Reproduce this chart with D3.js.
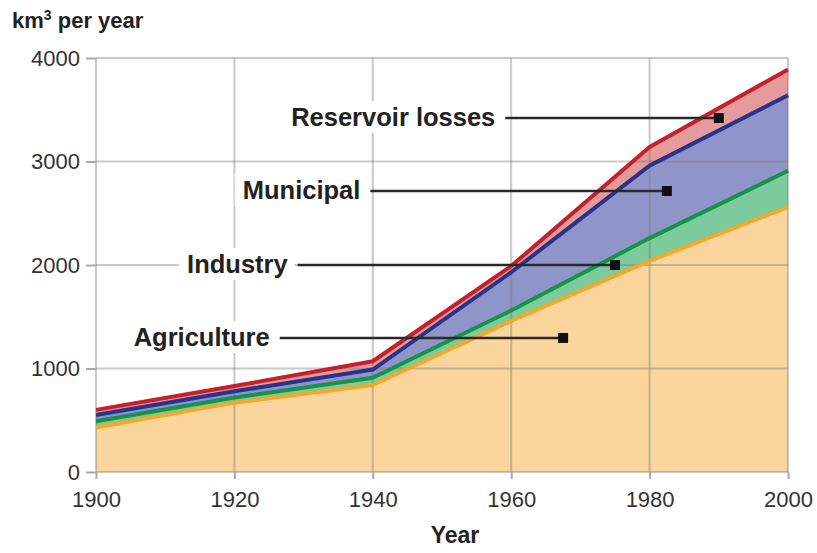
<!DOCTYPE html>
<html lang="en">
<head>
    <meta charset="UTF-8">
    <title>Water withdrawal by sector</title>
    <script src="https://d3js.org/d3.v7.min.js"></script>
    <style>
        body {
            margin: 0;
            background: #fff;
            font-family: "Liberation Sans", Arial, sans-serif;
        }
        .tick text {
            font-size: 22px;
            fill: #333;
        }
        .label {
            font-size: 25.5px;
            font-weight: bold;
            fill: #222;
        }
    </style>
</head>
<body>
    <div id="chart"></div>

    <script>
        // Data (km3 per year)
        const years = [1900, 1920, 1940, 1960, 1980, 2000];
        const agriculture = [430, 670, 840, 1460, 2040, 2560];
        const industry = [60, 50, 70, 100, 220, 350];
        const municipal = [60, 60, 80, 370, 700, 730];
        const reservoir = [50, 50, 80, 60, 180, 250];

        const seriesNames = ["Agriculture", "Industry", "Municipal", "Reservoir losses"];
        const xTicks = [1900, 1920, 1940, 1960, 1980, 2000];
        const yTicks = [0, 1000, 2000, 3000, 4000];

        // annotations: label end year, marker year, marker value
        const labelEndYears = [1925.1, 1927.7, 1938.2, 1957.7];
        const markerYears = [1967.5, 1975, 1982.5, 1990];
        const markerValues = [1295, 2000, 2715, 3420];

        const fills = ["#fad69c", "#7ccb9c", "#9095c9", "#e59a9c"];
        const strokes = ["#f2a82c", "#159447", "#27338d", "#c5202b"];

        const width = 817, height = 553;
        const margin = {top: 58, right: 29, bottom: 81, left: 96};

        const svg = d3.select("#chart").append("svg")
            .attr("width", width)
            .attr("height", height);

        const x = d3.scaleLinear().domain([1900, 2000]).range([margin.left, width - margin.right]);
        const y = d3.scaleLinear().domain([0, 4000]).range([height - margin.bottom, margin.top]);

        const table = years.map((yr, i) => ({
            year: yr,
            "Agriculture": agriculture[i],
            "Industry": industry[i],
            "Municipal": municipal[i],
            "Reservoir losses": reservoir[i]
        }));
        const stacked = d3.stack().keys(seriesNames)(table);

        const area = d3.area()
            .x(d => x(d.data.year))
            .y0(d => y(d[0]))
            .y1(d => y(d[1]));
        const topLine = d3.line()
            .x(d => x(d.data.year))
            .y(d => y(d[1]));

        // fills
        svg.append("g").selectAll("path")
            .data(stacked)
            .join("path")
            .attr("d", area)
            .attr("fill", (d, i) => fills[i]);

        // grid
        const grid = svg.append("g")
            .attr("stroke", "#777")
            .attr("stroke-opacity", 0.4)
            .attr("stroke-width", 2);
        grid.selectAll(".gx")
            .data(xTicks)
            .join("line")
            .attr("x1", d => x(d)).attr("x2", d => x(d))
            .attr("y1", y(0)).attr("y2", y(4000));
        grid.selectAll(".gy")
            .data(yTicks)
            .join("line")
            .attr("x1", x(1900)).attr("x2", x(2000))
            .attr("y1", d => y(d)).attr("y2", d => y(d));

        // axes
        const yAxis = svg.append("g")
            .attr("transform", `translate(${x(1900)},0)`)
            .call(d3.axisLeft(y).tickValues(yTicks).tickFormat(d3.format("d")).tickSize(10).tickPadding(6));
        const xAxis = svg.append("g")
            .attr("transform", `translate(0,${y(0)})`)
            .call(d3.axisBottom(x).tickValues(xTicks).tickFormat(d3.format("d")).tickSize(7).tickPadding(12));
        [xAxis, yAxis].forEach(a => {
            a.select(".domain").remove();
            a.selectAll(".tick line").attr("stroke", "#aaa").attr("stroke-width", 2);
        });

        // boundary lines
        svg.append("g").selectAll("path")
            .data(stacked)
            .join("path")
            .attr("d", topLine)
            .attr("fill", "none")
            .attr("stroke", (d, i) => strokes[i])
            .attr("stroke-width", 4)
            .attr("stroke-linejoin", "round");

        // annotations
        const ann = svg.append("g");
        seriesNames.forEach((name, i) => {
            const mx = x(markerYears[i]), my = y(markerValues[i]);
            const tx = x(labelEndYears[i]);
            const t = ann.append("text")
                .attr("class", "label")
                .attr("x", tx)
                .attr("y", my + 8)
                .attr("text-anchor", "end")
                .text(name);
            const bb = t.node().getBBox();
            ann.insert("rect", "text")
                .attr("x", bb.x - 8).attr("y", bb.y - 2)
                .attr("width", bb.width + 14).attr("height", bb.height + 4)
                .attr("fill", "#fff");
            ann.append("line")
                .attr("x1", tx + 10).attr("x2", mx)
                .attr("y1", my).attr("y2", my)
                .attr("stroke", "#2a2a2a")
                .attr("stroke-width", 2.5);
            ann.append("rect")
                .attr("x", mx - 5).attr("y", my - 5)
                .attr("width", 10).attr("height", 10)
                .attr("fill", "#111");
        });

        // titles
        const yt = svg.append("text")
            .attr("x", 12).attr("y", 28)
            .attr("font-size", 22).attr("font-weight", "bold").attr("fill", "#222");
        yt.append("tspan").text("km");
        yt.append("tspan").attr("font-size", 14).attr("dy", -8).text("3");
        yt.append("tspan").attr("dy", 8).text(" per year");

        svg.append("text")
            .attr("x", 455).attr("y", 543)
            .attr("text-anchor", "middle")
            .attr("font-size", 23).attr("font-weight", "bold").attr("fill", "#222")
            .text("Year");
    </script>
</body>
</html>
